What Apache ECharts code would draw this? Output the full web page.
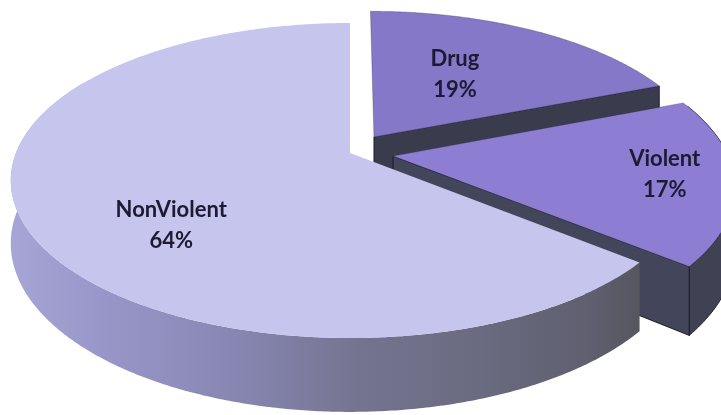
<!DOCTYPE html>
<html><head><meta charset="utf-8">
<script src="https://cdn.jsdelivr.net/npm/echarts@6/dist/echarts.min.js"></script>
<style>html,body{margin:0;padding:0;background:#fff}#chart{width:721px;height:415px}</style>
</head><body><div id="chart"></div>
<script>
// ---- data ----
const categories = ['Drug', 'Violent', 'NonViolent'];
const values = [19, 17, 64];

// ---- layout / style (3D projection of the pie) ----
const CX = 350, CY = 153, KX = 334, KY = 152.7, P = 0.1746, H = 61, EXPLODE = 0.13;
const exploded = [true, true, false];
const DEG = Math.PI / 180;
const WALL_MIN = 70 * DEG, WALL_MAX = 300 * DEG;
const topColors = ['#8678c9', '#8d7ed4', '#c6c5ee'];
const wallColors = [
  '#3d3e50',
  '#404254',
  new echarts.graphic.LinearGradient(0, 0, 1, 0, [
    {offset: 0, color: '#a7a5d6'}, {offset: 0.15, color: '#9896c8'},
    {offset: 0.35, color: '#8887b3'}, {offset: 0.55, color: '#757490'},
    {offset: 0.75, color: '#6a6a80'}, {offset: 0.92, color: '#5f5f70'},
    {offset: 1, color: '#56565f'}])
];
const faceColors = ['#3a3b4c', '#43455a', '#6a6a7e'];
const outline = ['rgba(25,25,35,0.9)', 'rgba(25,25,35,0.9)', null];
const labelShift = [[-19, 5], [69, 4], [11, 32]];

const total = values.reduce((a, b) => a + b, 0);
const slices = [];
let acc = 0;
values.forEach(v => {
  const a0 = acc / total * 2 * Math.PI; acc += v;
  const a1 = acc / total * 2 * Math.PI;
  slices.push({a0, a1, am: (a0 + a1) / 2});
});
const order = slices.map((s, i) => i).sort((i, j) => Math.cos(slices[j].am) - Math.cos(slices[i].am));

function proj(X, Zd, d) {
  const w = 1 + P * Zd;
  return [CX + X * KX / w, CY - Zd * KY / w + d * H / w];
}

function renderItem(params, api) {
  const i = params.dataIndex;
  const s = slices[i];
  const e = exploded[i] ? EXPLODE : 0;
  const ox = e * Math.sin(s.am), oz = e * Math.cos(s.am);
  const pt = (a, r, d) => proj(ox + r * Math.sin(a), oz + r * Math.cos(a), d);
  const arc = (from, to, d) => {
    const pts = [];
    const n = Math.max(2, Math.ceil(Math.abs(to - from) / (0.5 * DEG)));
    for (let k = 0; k <= n; k++) pts.push(pt(from + (to - from) * k / n, 1, d));
    return pts;
  };
  const base = order.indexOf(i) * 10;
  const children = [];
  const strokeStyle = outline[i] ? {stroke: outline[i], lineWidth: 1} : {};
  // outer wall
  const wa0 = Math.max(s.a0, WALL_MIN), wa1 = Math.min(s.a1, WALL_MAX);
  if (wa1 > wa0) {
    children.push({type: 'polygon', z2: base + 1,
      shape: {points: arc(wa0, wa1, 0).concat(arc(wa1, wa0, 1))},
      style: Object.assign({fill: wallColors[i]}, strokeStyle)});
  }
  // radial faces
  [[s.a0, s.a0 - Math.PI / 2], [s.a1, s.a1 + Math.PI / 2]].forEach(([a, n]) => {
    if (Math.cos(n) < -0.05) {
      children.push({type: 'polygon', z2: base + 2,
        shape: {points: [pt(a, 0, 0), pt(a, 1, 0), pt(a, 1, 1), pt(a, 0, 1)]},
        style: Object.assign({fill: faceColors[i]}, strokeStyle)});
    }
  });
  // top face
  children.push({type: 'polygon', z2: base + 3,
    shape: {points: [pt(0, 0, 0)].concat(arc(s.a0, s.a1, 0))},
    style: Object.assign({fill: topColors[i]}, outline[i] ? {stroke: 'rgba(40,40,60,0.5)', lineWidth: 0.6} : {})});
  // label
  const lp = pt(s.am, 0.6, 0);
  const pct = Math.round(values[i] / total * 100) + '%';
  children.push({type: 'text', z2: 100,
    style: {text: categories[i] + '\n' + pct, x: lp[0] + labelShift[i][0], y: lp[1] + labelShift[i][1],
      align: 'center', verticalAlign: 'middle', font: 'bold 22px Lato', fill: '#1c1b33', lineHeight: 31}});
  return {type: 'group', children};
}

const chart = echarts.init(document.getElementById('chart'), null, {renderer: 'canvas'});
chart.setOption({
  animation: false,
  backgroundColor: '#ffffff',
  series: [{
    type: 'custom',
    coordinateSystem: 'none',
    silent: true,
    renderItem,
    data: values.map((v, i) => [i, v])
  }]
});
</script>
</body></html>
